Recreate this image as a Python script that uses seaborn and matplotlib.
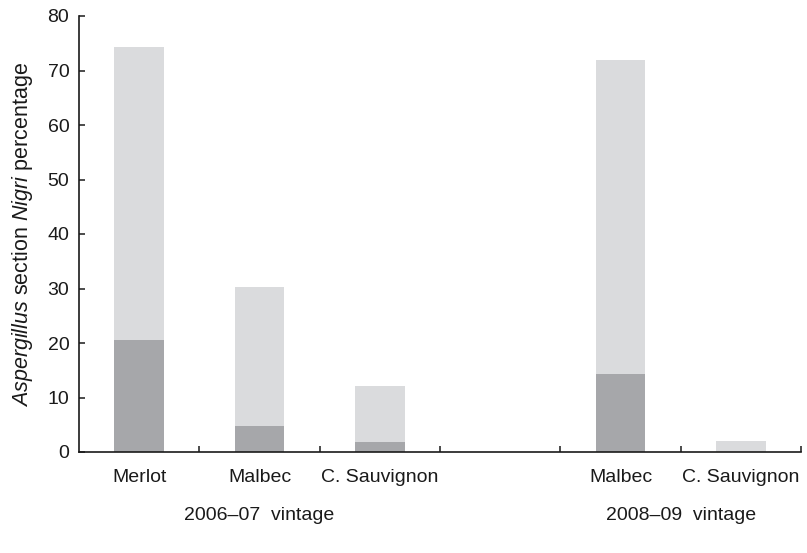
import numpy as np
import pandas as pd
import matplotlib
matplotlib.use("Agg")
import matplotlib.pyplot as plt
import seaborn as sns

# ---- data ----
slots = ["Merlot 2006-07", "Malbec 2006-07", "C. Sauvignon 2006-07", "gap",
         "Malbec 2008-09", "C. Sauvignon 2008-09"]
tick_labels = ["Merlot", "Malbec", "C. Sauvignon", "", "Malbec", "C. Sauvignon"]
total_pct = [74.3, 30.3, 12.1, np.nan, 72.0, 2.0]
dark_pct = [20.6, 4.8, 1.8, np.nan, 14.3, 0.0]
groups = ["2006\u201307  vintage", "2008\u201309  vintage"]
group_centers = [1.0, 4.5]
yticks = [0, 10, 20, 30, 40, 50, 60, 70, 80]

LIGHT = "#dadbdd"
DARK = "#a6a7aa"
INK = "#1a1a1a"

sns.set_theme(style="white")
plt.rcParams["font.family"] = ["Liberation Sans", "DejaVu Sans"]
plt.rcParams["mathtext.fontset"] = "custom"
plt.rcParams["mathtext.it"] = "Liberation Sans:italic"
plt.rcParams["mathtext.rm"] = "Liberation Sans"

df = pd.DataFrame({"slot": slots, "total": total_pct, "dark": dark_pct})

fig = plt.figure(figsize=(8.07, 5.53), dpi=100)
ax = fig.add_axes([79 / 807, 1 - 452 / 553, (801 - 79) / 807, (452 - 16) / 553])

sns.barplot(data=df, x="slot", y="total", order=slots, color=LIGHT,
            saturation=1, width=0.41, ax=ax, linewidth=0)
sns.barplot(data=df, x="slot", y="dark", order=slots, color=DARK,
            saturation=1, width=0.41, ax=ax, linewidth=0)

ax.set_xlim(-0.5, 5.5)
ax.set_ylim(0, 80)
ax.set_yticks(yticks)
ax.set_xticks(range(len(slots)))
ax.set_xticklabels(tick_labels, fontsize=14, color=INK)
ax.set_xticks(np.arange(0.5, 5.6, 1.0), minor=True)
ax.tick_params(axis="x", which="major", length=0, pad=12)
ax.tick_params(axis="x", which="minor", length=4, width=1.1, direction="in",
               color=INK, bottom=True)
ax.tick_params(axis="y", which="major", length=4, width=1.1, direction="in",
               labelsize=14, pad=7, color=INK, labelcolor=INK, left=True)

for s in ["top", "right"]:
    ax.spines[s].set_visible(False)
for s in ["left", "bottom"]:
    ax.spines[s].set_color(INK)
    ax.spines[s].set_linewidth(1.2)

ax.set_xlabel("")
ax.set_ylabel(r"$Aspergillus$ section $Nigri$ percentage", fontsize=15.5,
              color=INK, labelpad=9)

for g, c in zip(groups, group_centers):
    ax.text(c, -11.7, g, ha="center", va="center", fontsize=14, color=INK,
            transform=ax.transData, clip_on=False)

fig.savefig("out.png", dpi=100)
